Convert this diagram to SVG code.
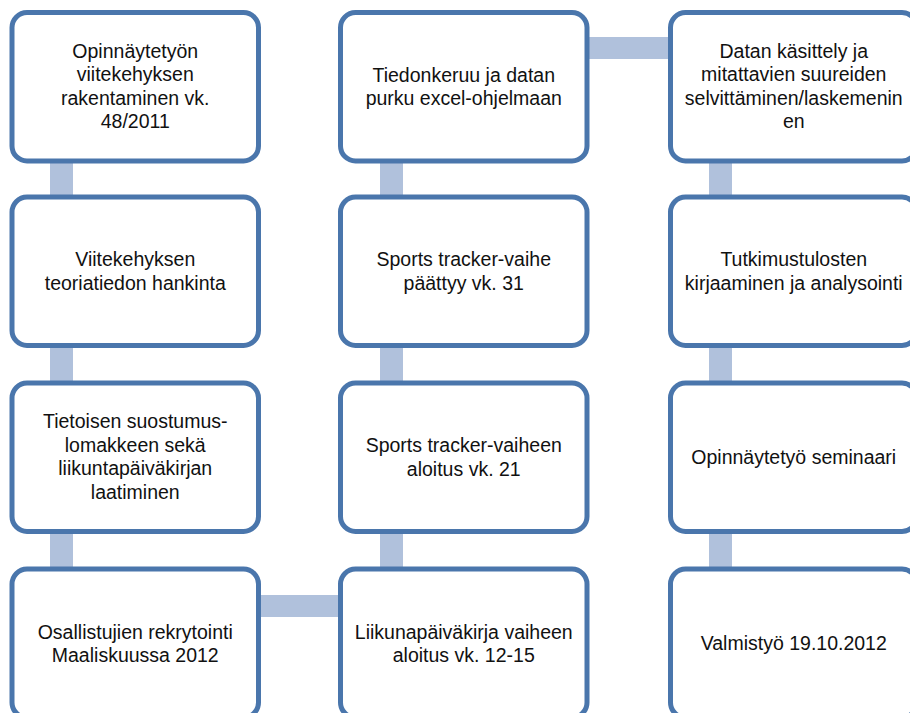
<svg xmlns="http://www.w3.org/2000/svg" width="910" height="713" viewBox="0 0 910 713">
<style>
.box{fill:#ffffff;stroke:#4A76AC;stroke-width:5}
.conn{fill:#B0C1DC}
text{font-family:"Liberation Sans",Arial,sans-serif;font-size:19.5px;fill:#111111;text-anchor:middle}
</style>
<g id="connectors">
<rect class="conn" x="50" y="150" width="23" height="60"/>
<rect class="conn" x="50" y="335" width="23" height="60"/>
<rect class="conn" x="50" y="521" width="23" height="60"/>
<rect class="conn" x="250" y="595" width="100" height="22"/>
<rect class="conn" x="380" y="521" width="23" height="60"/>
<rect class="conn" x="380" y="335" width="23" height="60"/>
<rect class="conn" x="380" y="150" width="23" height="60"/>
<rect class="conn" x="580" y="37" width="100" height="22"/>
<rect class="conn" x="709" y="150" width="23" height="60"/>
<rect class="conn" x="709" y="335" width="23" height="60"/>
<rect class="conn" x="709" y="521" width="23" height="60"/>
</g>
<g id="n1">
<rect class="box" x="12" y="12.5" width="246.5" height="148.5" rx="15"/>
<text x="135.25" y="57.5">Opinnäytetyön</text>
<text x="135.25" y="81">viitekehyksen</text>
<text x="135.25" y="104.5">rakentaminen vk.</text>
<text x="135.25" y="128">48/2011</text>
</g>
<g id="n2">
<rect class="box" x="12" y="197" width="246.5" height="148.5" rx="15"/>
<text x="135.25" y="266">Viitekehyksen</text>
<text x="135.25" y="289.5">teoriatiedon hankinta</text>
</g>
<g id="n3">
<rect class="box" x="12" y="383" width="246.5" height="148.5" rx="15"/>
<text x="135.25" y="428">Tietoisen suostumus-</text>
<text x="135.25" y="451.5">lomakkeen sekä</text>
<text x="135.25" y="475">liikuntapäiväkirjan</text>
<text x="135.25" y="498.5">laatiminen</text>
</g>
<g id="n4">
<rect class="box" x="12" y="569" width="246.5" height="148.5" rx="15"/>
<text x="135.25" y="638.5">Osallistujien rekrytointi</text>
<text x="135.25" y="661.5">Maaliskuussa 2012</text>
</g>
<g id="n5">
<rect class="box" x="340.5" y="569" width="246.5" height="148.5" rx="15"/>
<text x="463.75" y="638.5">Liikunapäiväkirja vaiheen</text>
<text x="463.75" y="661.5">aloitus vk. 12-15</text>
</g>
<g id="n6">
<rect class="box" x="340.5" y="383" width="246.5" height="148.5" rx="15"/>
<text x="463.75" y="452">Sports tracker-vaiheen</text>
<text x="463.75" y="475.5">aloitus vk. 21</text>
</g>
<g id="n7">
<rect class="box" x="340.5" y="197" width="246.5" height="148.5" rx="15"/>
<text x="463.75" y="266">Sports tracker-vaihe</text>
<text x="463.75" y="289.5">päättyy vk. 31</text>
</g>
<g id="n8">
<rect class="box" x="340.5" y="12.5" width="246.5" height="148.5" rx="15"/>
<text x="463.75" y="81.5">Tiedonkeruu ja datan</text>
<text x="463.75" y="105">purku excel-ohjelmaan</text>
</g>
<g id="n9">
<rect class="box" x="670.5" y="12.5" width="246.5" height="148.5" rx="15"/>
<text x="793.75" y="57.5">Datan käsittely ja</text>
<text x="793.75" y="81">mitattavien suureiden</text>
<text x="793.75" y="104.5">selvittäminen/laskemenin</text>
<text x="793.75" y="128">en</text>
</g>
<g id="n10">
<rect class="box" x="670.5" y="197" width="246.5" height="148.5" rx="15"/>
<text x="793.75" y="266">Tutkimustulosten</text>
<text x="793.75" y="289.5">kirjaaminen ja analysointi</text>
</g>
<g id="n11">
<rect class="box" x="670.5" y="383" width="246.5" height="148.5" rx="15"/>
<text x="793.75" y="464">Opinnäytetyö seminaari</text>
</g>
<g id="n12">
<rect class="box" x="670.5" y="569" width="246.5" height="148.5" rx="15"/>
<text x="793.75" y="650">Valmistyö 19.10.2012</text>
</g>
</svg>
